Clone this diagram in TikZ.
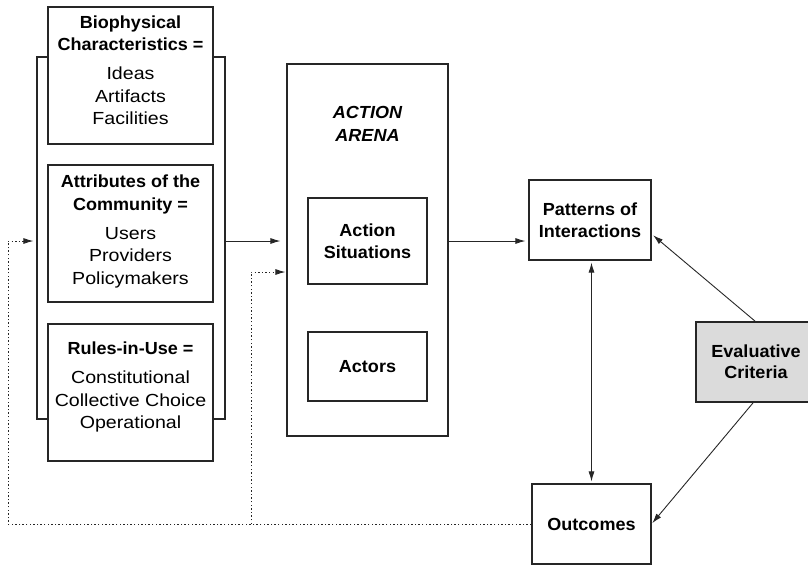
\documentclass[tikz,border=0pt]{standalone}
\usepackage{fontspec}
\setmainfont{Liberation Sans}[FakeStretch=1.12, BoldFeatures={FakeStretch=1.03}, BoldItalicFeatures={FakeStretch=1.03}]
\usetikzlibrary{arrows.meta,calc}
\begin{document}
\begin{tikzpicture}[x=1pt,y=-1pt,
  box/.style={draw=black!85, line width=1.1pt, fill=white, inner sep=0pt},
  txt/.style={align=center, inner sep=0pt, font=\fontsize{17.5}{22.4}\selectfont},
  arr/.style={-{Latex[length=10pt,width=6pt]}, line width=0.9pt, draw=black!85},
  darr/.style={{Latex[length=10pt,width=6pt]}-{Latex[length=10pt,width=6pt]}, line width=0.9pt, draw=black!85},
  dots/.style={dash pattern=on 1.4pt off 2.2pt, line width=0.9pt, draw=black!85},
  dotarr/.style={dots, -{Latex[length=10pt,width=6pt]}}
]
\useasboundingbox (0,0) rectangle (808,566);
% bracket behind left boxes
\node[draw=black!85, line width=1.1pt, inner sep=0pt, minimum width=188pt, minimum height=362pt] (brk) at (131,238) {};
% left boxes
\node[box, minimum width=165pt, minimum height=137pt] (bio) at (130.5,75.5) {};
\node[txt] (biot) at (130.5,70.3) {\textbf{Biophysical}\\\textbf{Characteristics =}\\[6.6pt]Ideas\\Artifacts\\Facilities};
\node[box, minimum width=165pt, minimum height=137pt] (com) at (130.5,233.5) {};
\node[txt] (comt) at (130.5,231.5) {\textbf{Attributes of the}\\\textbf{Community =}\\[6.6pt]Users\\Providers\\Policymakers};
\node[box, minimum width=165pt, minimum height=137pt] (rul) at (130.5,392.5) {};
\node[txt] (rult) at (130.5,387.2) {\textbf{Rules-in-Use =}\\[6.6pt]Constitutional\\Collective Choice\\Operational};
% action arena
\node[box, minimum width=161pt, minimum height=372pt] (arena) at (367.5,250) {};
\node[txt, font=\fontsize{17.5}{23}\selectfont\bfseries\itshape] (arenat) at (367.5,124) {ACTION\\ARENA};
\node[box, minimum width=119pt, minimum height=86pt, font=\fontsize{17.5}{22.4}\selectfont\bfseries, align=center] (sit) at (367.5,241) {Action\\Situations};
\node[box, minimum width=119pt, minimum height=69pt, font=\fontsize{17.5}{22.4}\selectfont\bfseries, align=center] (act) at (367.5,366.5) {Actors};
% right side
\node[box, minimum width=122pt, minimum height=80pt, font=\fontsize{17.5}{22.4}\selectfont\bfseries, align=center] (pat) at (590,220) {Patterns of\\Interactions};
\node[box, minimum width=119pt, minimum height=80pt, font=\fontsize{17.5}{22.4}\selectfont\bfseries, align=center] (out) at (591.5,524) {Outcomes};
\node[box, line width=1.8pt, fill=black!14, minimum width=120pt, minimum height=80pt, font=\fontsize{17.5}{21}\selectfont\bfseries, align=center] (eval) at (756,362) {Evaluative\\Criteria};
% connectors
\draw[arr, shorten >=6pt] (brk.east |- sit.center) -- (arena.west |- sit.center);
\draw[arr, shorten >=3pt] (arena.east |- sit.center) -- (pat.west |- sit.center);
\draw[darr, shorten >=2pt, shorten <=2pt] (out.north |- pat.south) -- (out.north);
\draw[arr, shorten >=2pt] ([xshift=-1pt]eval.north) -- ([yshift=-14pt]pat.east);
\draw[arr, shorten >=1pt] ([xshift=-3pt]eval.south) -- (out.east);
% dotted feedback
\coordinate (dl) at (8,524);
\coordinate (dm) at (251,524);
\coordinate (dmy) at (251,272);
\draw[dotarr, shorten >=3pt] (out.west) -- (dl) |- (brk.west |- sit.center);
\draw[dotarr, shorten >=1pt] (dm) -- (dmy) -- (arena.west |- dmy);
\end{tikzpicture}
\end{document}
